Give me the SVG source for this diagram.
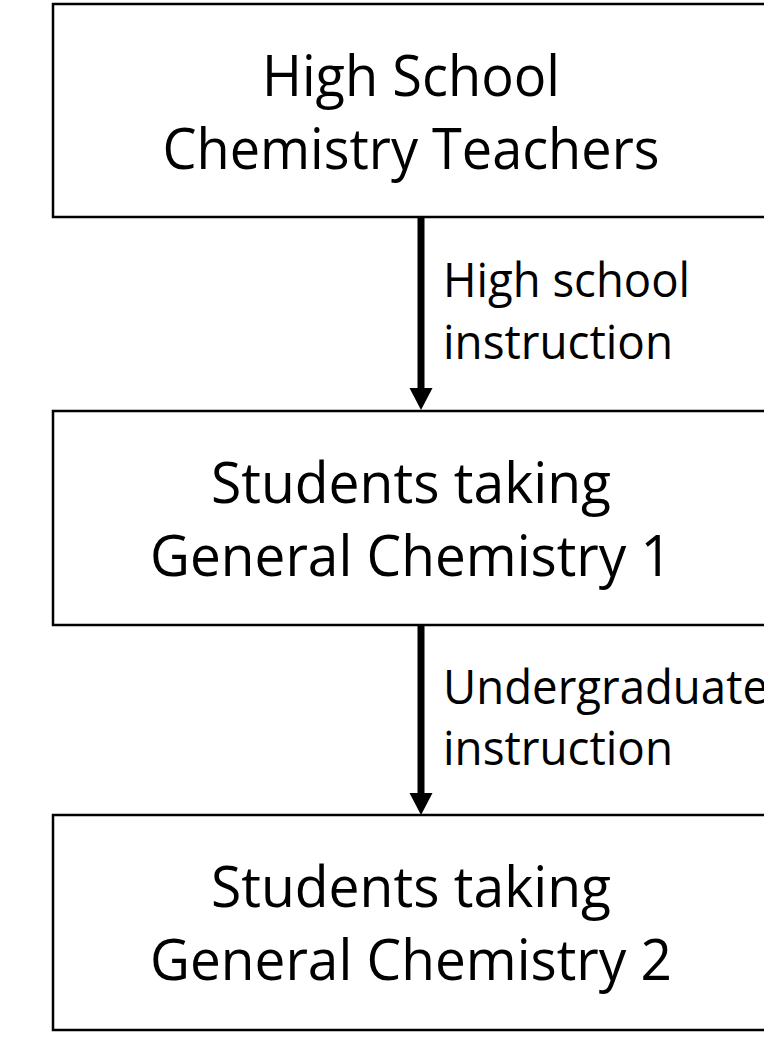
<svg xmlns="http://www.w3.org/2000/svg" width="764" height="1059" viewBox="0 0 764 1059">
<style>
.box{fill:#fff;stroke:#000;stroke-width:2.5}
.t{font-family:"Open Sans","Liberation Sans",sans-serif;font-size:56px;fill:#000;text-anchor:middle}
.l{font-family:"Open Sans","Liberation Sans",sans-serif;font-size:47px;fill:#000}
.c{stroke:#000;stroke-width:7;fill:none}
.h{fill:#000}
</style>
<rect width="764" height="1059" fill="#fff"/>
<g id="node-teachers">
<rect class="box" x="53" y="4" width="716" height="213"/>
<text class="t" x="411" y="96" textLength="298" lengthAdjust="spacingAndGlyphs">High School</text>
<text class="t" x="411" y="169" textLength="497" lengthAdjust="spacingAndGlyphs">Chemistry Teachers</text>
</g>
<g id="node-gc1">
<rect class="box" x="53" y="411" width="716" height="214"/>
<text class="t" x="411" y="503" textLength="400" lengthAdjust="spacingAndGlyphs">Students taking</text>
<text class="t" x="411" y="576" textLength="522" lengthAdjust="spacingAndGlyphs">General Chemistry 1</text>
</g>
<g id="node-gc2">
<rect class="box" x="53" y="815" width="716" height="215"/>
<text class="t" x="411" y="907" textLength="400" lengthAdjust="spacingAndGlyphs">Students taking</text>
<text class="t" x="411" y="980" textLength="522" lengthAdjust="spacingAndGlyphs">General Chemistry 2</text>
</g>
<g id="connectors">
<line class="c" x1="421" y1="218" x2="421" y2="389"/>
<path class="h" d="M409.5,388 L432.5,388 L421,410 Z"/>
<line class="c" x1="421" y1="626" x2="421" y2="794"/>
<path class="h" d="M409.5,793 L432.5,793 L421,815 Z"/>
<text class="l" x="443" y="297" textLength="247" lengthAdjust="spacingAndGlyphs">High school</text>
<text class="l" x="443" y="359" textLength="230" lengthAdjust="spacingAndGlyphs">instruction</text>
<text class="l" x="443" y="704" textLength="325" lengthAdjust="spacingAndGlyphs">Undergraduate</text>
<text class="l" x="443" y="765" textLength="230" lengthAdjust="spacingAndGlyphs">instruction</text>
</g>
</svg>
